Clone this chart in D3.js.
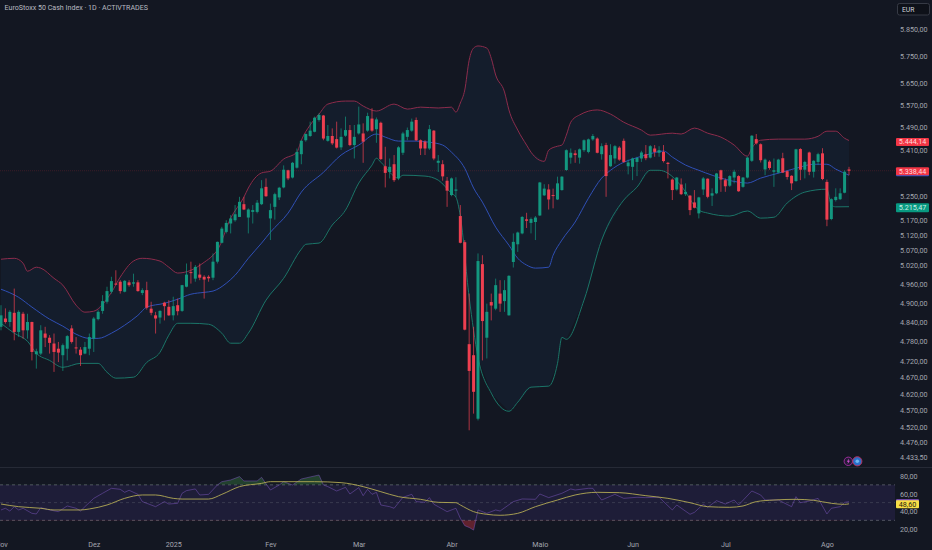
<!DOCTYPE html>
<html>
<head>
<meta charset="utf-8">
<script src="https://cdn.jsdelivr.net/npm/d3@7"></script>
<style>
  html, body { margin: 0; padding: 0; background: #131722; overflow: hidden; }
  text { font-family: Roboto, "Liberation Sans", sans-serif; }
</style>
</head>
<body>
<div id="my_dataviz"></div>
<script>
// daily candles, one value per bar
const candleOpen = [
  4825,4851,4840,4869,4809,4866,4814,4840,4740,4742,
  4804,4791,4773,4757,4737,4757,4820,4761,4754,4742,
  4757,4788,4849,4875,4904,4936,4962,4968,4936,4966,
  4962,4966,4932,4941,4882,4861,4854,4901,4888,4861,
  4893,4875,4952,4999,4978,4991,4984,4984,4981,5033,
  5095,5131,5159,5170,5181,5224,5179,5198,5198,5224,
  5283,5176,5215,5247,5281,5340,5315,5349,5396,5445,
  5460,5475,5517,5533,5443,5460,5449,5420,5461,5481,
  5428,5469,5469,5479,5522,5484,5507,5354,5334,5361,
  5312,5401,5457,5479,5517,5445,5440,5416,5479,5366,
  5361,5304,5255,5270,5184,5097,4771,4737,4546,5025,
  4791,4903,4882,4930,4906,4861,5032,5090,5126,5173,
  5161,5164,5186,5254,5274,5255,5240,5272,5341,5384,
  5399,5384,5410,5404,5448,5451,5396,5428,5354,5381,
  5419,5443,5354,5352,5369,5381,5396,5384,5416,5401,
  5404,5366,5308,5274,5291,5258,5253,5230,5193,5274,
  5311,5253,5261,5340,5306,5287,5315,5320,5283,5315,
  5373,5449,5431,5343,5370,5335,5332,5382,5337,5321,
  5303,5414,5342,5402,5335,5369,5399,5300,5174,5238,
  5241,5263,5343]
const candleHigh = [
  4893,4883,4877,4946,4877,4872,4866,4841,4757,4830,
  4825,4799,4804,4778,4773,4799,4830,4793,4762,4778,
  4804,4856,4877,4925,4952,4984,5005,4973,4973,4973,
  4994,4973,4947,4968,4904,4872,4877,4904,4909,4920,
  4914,4958,5027,5033,5022,5027,4989,4989,5060,5099,
  5148,5170,5187,5221,5249,5249,5210,5221,5238,5306,
  5312,5226,5263,5283,5357,5342,5369,5416,5445,5469,
  5511,5529,5541,5535,5499,5487,5511,5487,5529,5499,
  5499,5565,5505,5543,5559,5526,5511,5422,5381,5393,
  5424,5475,5490,5522,5526,5448,5445,5499,5481,5393,
  5375,5317,5315,5316,5221,5104,4930,4825,5060,5054,
  4898,4930,4978,4973,4973,4989,5126,5132,5184,5195,
  5179,5184,5300,5292,5292,5277,5318,5320,5413,5416,
  5410,5416,5448,5451,5467,5455,5434,5436,5431,5428,
  5424,5451,5377,5384,5387,5408,5428,5428,5428,5424,
  5428,5369,5312,5317,5312,5295,5255,5272,5249,5317,
  5312,5278,5331,5342,5312,5323,5342,5323,5317,5387,
  5463,5467,5434,5381,5375,5381,5380,5401,5340,5323,
  5415,5417,5373,5405,5375,5401,5417,5308,5244,5278,
  5278,5340,5352]
const candleLow = [
  4814,4835,4825,4783,4793,4788,4788,4721,4696,4737,
  4762,4742,4686,4716,4689,4721,4773,4742,4704,4740,
  4737,4747,4845,4866,4898,4930,4957,4930,4934,4952,
  4952,4936,4925,4879,4861,4804,4835,4845,4859,4845,
  4861,4872,4950,4962,4968,4973,4914,4968,4973,5027,
  5093,5126,5126,5165,5181,5204,5126,5159,5193,5221,
  5249,5104,5172,5238,5278,5306,5312,5346,5361,5440,
  5457,5473,5511,5445,5440,5428,5416,5411,5457,5424,
  5381,5465,5366,5475,5475,5436,5375,5281,5312,5300,
  5306,5393,5445,5475,5442,5393,5393,5411,5375,5334,
  5304,5215,5251,5248,5093,4814,4512,4561,4541,4721,
  4727,4845,4877,4872,4872,4860,5014,5065,5123,5144,
  5126,5104,5184,5252,5206,5210,5238,5270,5338,5363,
  5366,5363,5404,5399,5443,5399,5377,5249,5352,5363,
  5373,5366,5326,5306,5320,5369,5375,5381,5387,5387,
  5367,5312,5238,5270,5255,5252,5187,5210,5176,5255,
  5244,5218,5258,5266,5266,5283,5295,5266,5280,5312,
  5369,5430,5367,5323,5342,5283,5329,5331,5308,5272,
  5300,5306,5312,5323,5315,5358,5306,5150,5170,5233,
  5238,5261,5323]
const candleClose = [
  4861,4840,4872,4809,4872,4814,4840,4747,4749,4814,
  4791,4775,4747,4745,4768,4796,4778,4758,4737,4762,
  4793,4851,4872,4906,4938,4970,4960,4938,4971,4957,
  4966,4938,4941,4885,4869,4851,4875,4890,4861,4890,
  4874,4957,4991,4996,5016,4981,4975,4979,5033,5098,
  5142,5161,5176,5190,5232,5206,5206,5204,5229,5278,
  5251,5204,5258,5280,5342,5312,5366,5404,5443,5467,
  5479,5525,5535,5451,5460,5434,5419,5457,5481,5428,
  5457,5501,5440,5531,5479,5519,5379,5331,5352,5306,
  5420,5469,5481,5511,5445,5416,5416,5484,5381,5373,
  5319,5270,5312,5274,5095,4816,4689,4626,5035,4843,
  4872,4892,4957,4898,4941,4987,5098,5129,5181,5168,
  5174,5179,5298,5277,5240,5253,5295,5318,5410,5401,
  5393,5413,5445,5448,5460,5401,5424,5320,5393,5424,
  5377,5369,5367,5381,5383,5402,5382,5424,5404,5410,
  5372,5362,5272,5315,5258,5266,5204,5212,5247,5312,
  5249,5261,5329,5308,5285,5320,5335,5268,5315,5384,
  5461,5434,5375,5377,5348,5340,5377,5332,5317,5295,
  5413,5342,5369,5335,5373,5396,5310,5172,5241,5249,
  5261,5335,5338.44]

// bollinger bands as [bar, price]
const bbUpper = [[0,5041],[3,5044],[5,5028],[6,5002],[8,5015],[9,5012],[12,4979],[14,4957],[17,4893],[19,4871],[21,4874],[25,4934],[27,4983],[30,5035],[32,5044],[36,5035],[38,5015],[40,4996],[43,5005],[46,5031],[48,5054],[49,5071],[52,5177],[55,5248],[56,5279],[59,5331],[61,5337],[64,5379],[67,5403],[68,5445],[70,5499],[72,5538],[74,5574],[78,5585],[80,5585],[82,5567],[85,5549],[89,5574],[92,5556],[95,5563],[99,5560],[102,5563],[103,5545],[104,5578],[105,5625],[106,5735],[107,5780],[108,5788],[110,5780],[111,5742],[112,5680],[114,5618],[115,5553],[117,5481],[119,5428],[120,5403],[123,5371],[124,5410],[126,5424],[127,5428],[128,5463],[129,5509],[131,5535],[135,5553],[138,5538],[141,5509],[145,5481],[147,5463],[152,5470],[154,5467],[157,5488],[160,5470],[163,5456],[166,5428],[169,5389],[170,5417],[172,5445],[176,5449],[182,5449],[185,5459],[187,5477],[189,5477],[191,5452],[192,5444.14]]
const bbBasis = [[0,4944],[4,4918],[7,4887],[11,4849],[14,4827],[17,4802],[20,4789],[22,4789],[25,4805],[28,4830],[31,4861],[33,4887],[37,4899],[40,4912],[43,4928],[46,4934],[48,4938],[51,4963],[53,4989],[56,5044],[59,5094],[61,5130],[65,5194],[68,5265],[73,5333],[77,5393],[81,5428],[85,5467],[87,5456],[90,5442],[94,5442],[97,5438],[100,5428],[102,5403],[105,5347],[107,5279],[109,5231],[112,5147],[115,5087],[117,5044],[119,5022],[121,5012],[124,5015],[125,5054],[127,5104],[130,5164],[133,5244],[136,5313],[138,5340],[141,5368],[143,5379],[146,5393],[150,5407],[152,5386],[155,5358],[158,5340],[161,5323],[167,5299],[169,5296],[172,5313],[176,5330],[180,5347],[184,5361],[187,5361],[189,5344],[192,5323]]
const bbLower = [[0,4836],[3,4805],[6,4780],[8,4743],[11,4721],[14,4700],[18,4712],[22,4712],[24,4685],[26,4667],[30,4670],[33,4715],[36,4746],[38,4799],[40,4836],[43,4836],[47,4833],[50,4805],[52,4774],[54,4774],[56,4805],[60,4909],[64,4979],[68,5074],[69,5090],[72,5094],[75,5154],[78,5204],[81,5296],[84,5358],[85,5382],[86,5368],[90,5313],[91,5323],[96,5320],[99,5306],[102,5261],[103,5248],[104,5184],[106,4918],[108,4731],[111,4622],[115,4568],[117,4595],[120,4640],[124,4643],[126,4712],[127,4792],[128,4786],[132,4909],[136,5104],[141,5238],[144,5282],[147,5340],[149,5340],[151,5330],[154,5286],[158,5204],[160,5194],[165,5184],[169,5201],[172,5177],[175,5180],[178,5228],[182,5265],[187,5275],[188,5221],[189,5215],[192,5215.47]]

// rsi pane as [bar, value]
const rsiLine = [[0,41.7],[1,43.6],[2,40.5],[3,45.4],[4,41.7],[5,43.6],[7,37.9],[8,37.2],[9,44.3],[11,41.7],[13,39.8],[15,46.2],[17,43.6],[18,40.5],[19,45.4],[21,54.8],[23,60.5],[25,66.1],[27,65],[28,61.6],[29,63.9],[31,59.3],[32,51.1],[35,45.4],[37,51.1],[38,48.4],[40,49.2],[41,60.5],[42,63.5],[44,65.4],[45,58.6],[47,59.3],[49,69.9],[50,73.6],[52,75.5],[54,79.3],[55,74.4],[58,74.4],[59,78.5],[61,64.2],[63,69.9],[64,73.6],[66,69.9],[68,76.6],[70,78.9],[72,81.1],[73,69.9],[74,68],[76,63.1],[78,67.2],[79,59.7],[81,66.9],[82,57.8],[83,65],[84,59.3],[85,61.6],[86,47.3],[88,45.4],[89,43.6],[91,56],[93,59.3],[94,51.1],[96,50.3],[97,55.6],[98,48.1],[99,45.4],[101,39.8],[103,43.6],[104,32.3],[105,24],[106,22],[107,19],[108,41.7],[110,37.9],[112,41.7],[113,40.5],[116,51.1],[118,54.1],[121,53.7],[122,59.7],[124,55.6],[127,60.5],[129,65.4],[130,64.2],[133,66.1],[134,66.1],[136,52.9],[139,59.3],[141,54.8],[144,56],[146,55.6],[149,56],[152,41.7],[153,47.3],[156,36.8],[157,39],[159,48.1],[160,44.7],[162,52.2],[164,48.4],[166,52.9],[167,47.3],[170,63.1],[172,58.6],[173,52.9],[176,52.9],[179,45.4],[180,56.7],[181,49.9],[183,51.8],[185,54.8],[187,37.2],[188,43.6],[190,45.4],[191,50.3],[192,51]]
const rsiMa = [[0,48.4],[4,45.4],[9,43.6],[12,41.7],[18,41.7],[20,42.8],[24,47.3],[28,54.8],[32,58.6],[35,58.6],[39,54.8],[41,54],[47,54],[50,59.3],[54,68],[59,71.7],[61,73.6],[65,73.6],[71,73.6],[77,72.5],[82,68],[86,62.3],[90,56.7],[95,53.7],[99,50.3],[103,49.9],[104,47.3],[107,39.8],[110,36.8],[113,35.7],[117,37.9],[121,45.4],[126,52.9],[130,58.6],[135,61.6],[140,61.2],[146,57.8],[151,54.8],[156,49.9],[160,45.4],[165,44.7],[168,46.2],[171,51.1],[175,52.9],[180,53.7],[184,52.6],[188,49.2],[191,48],[192,48.6]]

const priceTicks = [5850,5750,5650,5570,5490,5410,5250,5170,5120,5070,5020,4960,4900,4840,4780,4720,4670,4620,4570,4520,4476,4433.5]
const rsiTicks = [80,60,40,20]
const rsiLevels = [70,50,30]
const timeBars = [0,21,39,61,81,102,122,143,164,187]
const timeLabels = ["Nov","Dez","2025","Fev","Mar","Abr","Maio","Jun","Jul","Ago"]

const lastPrice = 5338.44
const upperLast = 5444.14
const basisLast = 5323
const lowerLast = 5215.47
const maLast = 48.6
const rsiLast = 51

const width = 932
const height = 550
const plotRight = 895
const axisX = 900

const upColor = "#13977f"
const downColor = "#ee3f50"
const axisText = "#a3a6af"

const svg = d3.select("#my_dataviz")
  .append("svg")
  .attr("width", width)
  .attr("height", height)
  .style("display", "block")
  .style("background", "#131722")

const x = d3.scaleLinear().domain([0, 192]).range([1, 849])
const y = d3.scaleLog().domain([5963, 4406]).range([0, 467])
const yRsi = d3.scaleLinear().domain([80, 20]).range([476, 529.2])

const br = d3.formatLocale({decimal: ",", thousands: ".", grouping: [3], currency: ["", ""]})
const priceFmt = br.format(",.2f")
const rsiFmt = br.format(".2f")

const clip = svg.append("defs")
clip.append("clipPath").attr("id", "aboveHi").append("rect")
  .attr("x", 0).attr("y", 467).attr("width", plotRight).attr("height", yRsi(70) - 467)
clip.append("clipPath").attr("id", "belowLo").append("rect")
  .attr("x", 0).attr("y", yRsi(30)).attr("width", plotRight).attr("height", 30)

// bollinger fill + lines
const bandFill = d3.line().x(d => x(d[0])).y(d => y(d[1]))
const bandLine = d3.line().x(d => x(d[0])).y(d => y(d[1])).curve(d3.curveMonotoneX)
svg.append("path")
  .attr("d", bandFill(bbUpper.concat(bbLower.slice().reverse())) + "Z")
  .attr("fill", "#2196f3")
  .attr("fill-opacity", 0.05)

// last price line
svg.append("line")
  .attr("x1", 0).attr("x2", plotRight)
  .attr("y1", y(lastPrice)).attr("y2", y(lastPrice))
  .attr("stroke", "#f23645")
  .attr("stroke-opacity", 0.18)
  .attr("stroke-dasharray", "1 1")

const bands = [[bbUpper, "#8c2c4c"], [bbLower, "#1b7568"], [bbBasis, "#2f4fb5"]]
bands.forEach(b => {
  svg.append("path")
    .attr("d", bandLine(b[0]))
    .attr("fill", "none")
    .attr("stroke", b[1])
    .attr("stroke-width", 1)
})

// candles
const bars = d3.range(candleOpen.length)
const isUp = i => candleClose[i] >= candleOpen[i]
const candles = svg.append("g").selectAll("g").data(bars).join("g")
candles.append("line")
  .attr("x1", i => x(i)).attr("x2", i => x(i))
  .attr("y1", i => y(candleHigh[i])).attr("y2", i => y(candleLow[i]))
  .attr("stroke", i => isUp(i) ? upColor : downColor)
  .attr("stroke-opacity", 0.7)
candles.append("rect")
  .attr("x", i => x(i) - 1.5)
  .attr("width", 3)
  .attr("y", i => y(Math.max(candleOpen[i], candleClose[i])))
  .attr("height", i => Math.max(1, Math.abs(y(candleOpen[i]) - y(candleClose[i]))))
  .attr("fill", i => isUp(i) ? upColor : downColor)

// pane separator
svg.append("line")
  .attr("x1", 0).attr("x2", width)
  .attr("y1", 467.5).attr("y2", 467.5)
  .attr("stroke", "#262a36")

// rsi pane
svg.append("rect")
  .attr("x", 0).attr("width", plotRight)
  .attr("y", yRsi(70)).attr("height", yRsi(30) - yRsi(70))
  .attr("fill", "#6a44d0")
  .attr("fill-opacity", 0.13)
svg.selectAll(".level").data(rsiLevels).join("line")
  .attr("class", "level")
  .attr("x1", 0).attr("x2", plotRight)
  .attr("y1", d => yRsi(d)).attr("y2", d => yRsi(d))
  .attr("stroke", "#787b86")
  .attr("stroke-opacity", d => d === 50 ? 0.3 : 0.6)
  .attr("stroke-dasharray", "3 3")

const rsiArea = level => d3.area().x(d => x(d[0])).y0(yRsi(level)).y1(d => yRsi(d[1]))
svg.append("path").attr("d", rsiArea(70)(rsiLine))
  .attr("clip-path", "url(#aboveHi)").attr("fill", "#4caf50").attr("fill-opacity", 0.28)
svg.append("path").attr("d", rsiArea(30)(rsiLine))
  .attr("clip-path", "url(#belowLo)").attr("fill", "#f23645").attr("fill-opacity", 0.35)

const rsiPath = d3.line().x(d => x(d[0])).y(d => yRsi(d[1]))
const maPath = d3.line().x(d => x(d[0])).y(d => yRsi(d[1])).curve(d3.curveMonotoneX)
svg.append("path").attr("d", rsiPath(rsiLine))
  .attr("fill", "none").attr("stroke", "#7e57c2").attr("stroke-width", 0.7).attr("stroke-opacity", 0.7)
svg.append("path").attr("d", maPath(rsiMa))
  .attr("fill", "none").attr("stroke", "#b3aa55").attr("stroke-width", 0.9)

// axes
const styleAxis = g => {
  g.select(".domain").remove()
  g.selectAll("text").attr("fill", axisText).attr("font-size", 7.2).attr("font-family", "Roboto")
}
svg.append("g")
  .attr("transform", `translate(${axisX},0)`)
  .call(d3.axisRight(y).tickValues(priceTicks).tickSize(0).tickPadding(0).tickFormat(priceFmt))
  .call(styleAxis)
svg.append("g")
  .attr("transform", `translate(${axisX},0)`)
  .call(d3.axisRight(yRsi).tickValues(rsiTicks).tickSize(0).tickPadding(0).tickFormat(rsiFmt))
  .call(styleAxis)
svg.append("g")
  .attr("transform", "translate(0,538.5)")
  .call(d3.axisBottom(x).tickValues(timeBars).tickSize(0).tickPadding(3).tickFormat((d, i) => timeLabels[i]))
  .call(styleAxis)

// value tags on the right
function tag(cy, h, w, color, label, textColor) {
  svg.append("rect").attr("x", 896).attr("y", cy - h / 2).attr("width", w).attr("height", h)
    .attr("rx", 1).attr("fill", color)
  if (label) {
    svg.append("text").attr("x", 896 + w / 2).attr("y", cy + 2.6)
      .attr("text-anchor", "middle").attr("font-size", 7.2)
      .attr("fill", textColor).text(label)
  }
}
tag(y(basisLast) - 3, 8, 33, "#2f55c8", "", "")
tag(y(upperLast) + 1.4, 8, 33, "#f23645", priceFmt(upperLast), "#ffd5d9")
tag(y(lastPrice) + 0.6, 8, 33, "#f23645", priceFmt(lastPrice), "#ffd5d9")
tag(y(lowerLast) + 1, 9, 33, "#089981", priceFmt(lowerLast), "#c8f0e6")
tag(yRsi(rsiLast) + 1.5, 8, 23, "#8e5bd0", "", "")
tag(yRsi(maLast) + 0.3, 8, 23, "#f7de45", rsiFmt(maLast), "#2a2410")

// title + currency box
svg.append("text").attr("x", 4.5).attr("y", 10.3)
  .attr("font-size", 7.1).attr("fill", "#b8bac1")
  .text("EuroStoxx 50 Cash Index · 1D · ACTIVTRADES")
svg.append("rect").attr("x", 897.5).attr("y", 3.5).attr("width", 32).attr("height", 11.5)
  .attr("rx", 2).attr("fill", "#0e1119").attr("stroke", "#363a45")
svg.append("text").attr("x", 902).attr("y", 11.5)
  .attr("font-size", 6.8).attr("fill", "#d1d4dc").text("EUR")

// indicator badges
svg.append("circle").attr("cx", 848.3).attr("cy", 461.3).attr("r", 4.2)
  .attr("fill", "#241a35").attr("stroke", "#9c2c9c")
svg.append("path").attr("d", "M849,458.5L846.8,461.8H848.2L847.6,464L850,460.8H848.6Z").attr("fill", "#d04fd0")
svg.append("circle").attr("cx", 857.3).attr("cy", 461.3).attr("r", 4.6)
  .attr("fill", "#2a6fc9").attr("stroke", "#b8305a")
svg.append("circle").attr("cx", 857.3).attr("cy", 461.3).attr("r", 1.8)
  .attr("fill", "#6fb6f0")
</script>
</body>
</html>
